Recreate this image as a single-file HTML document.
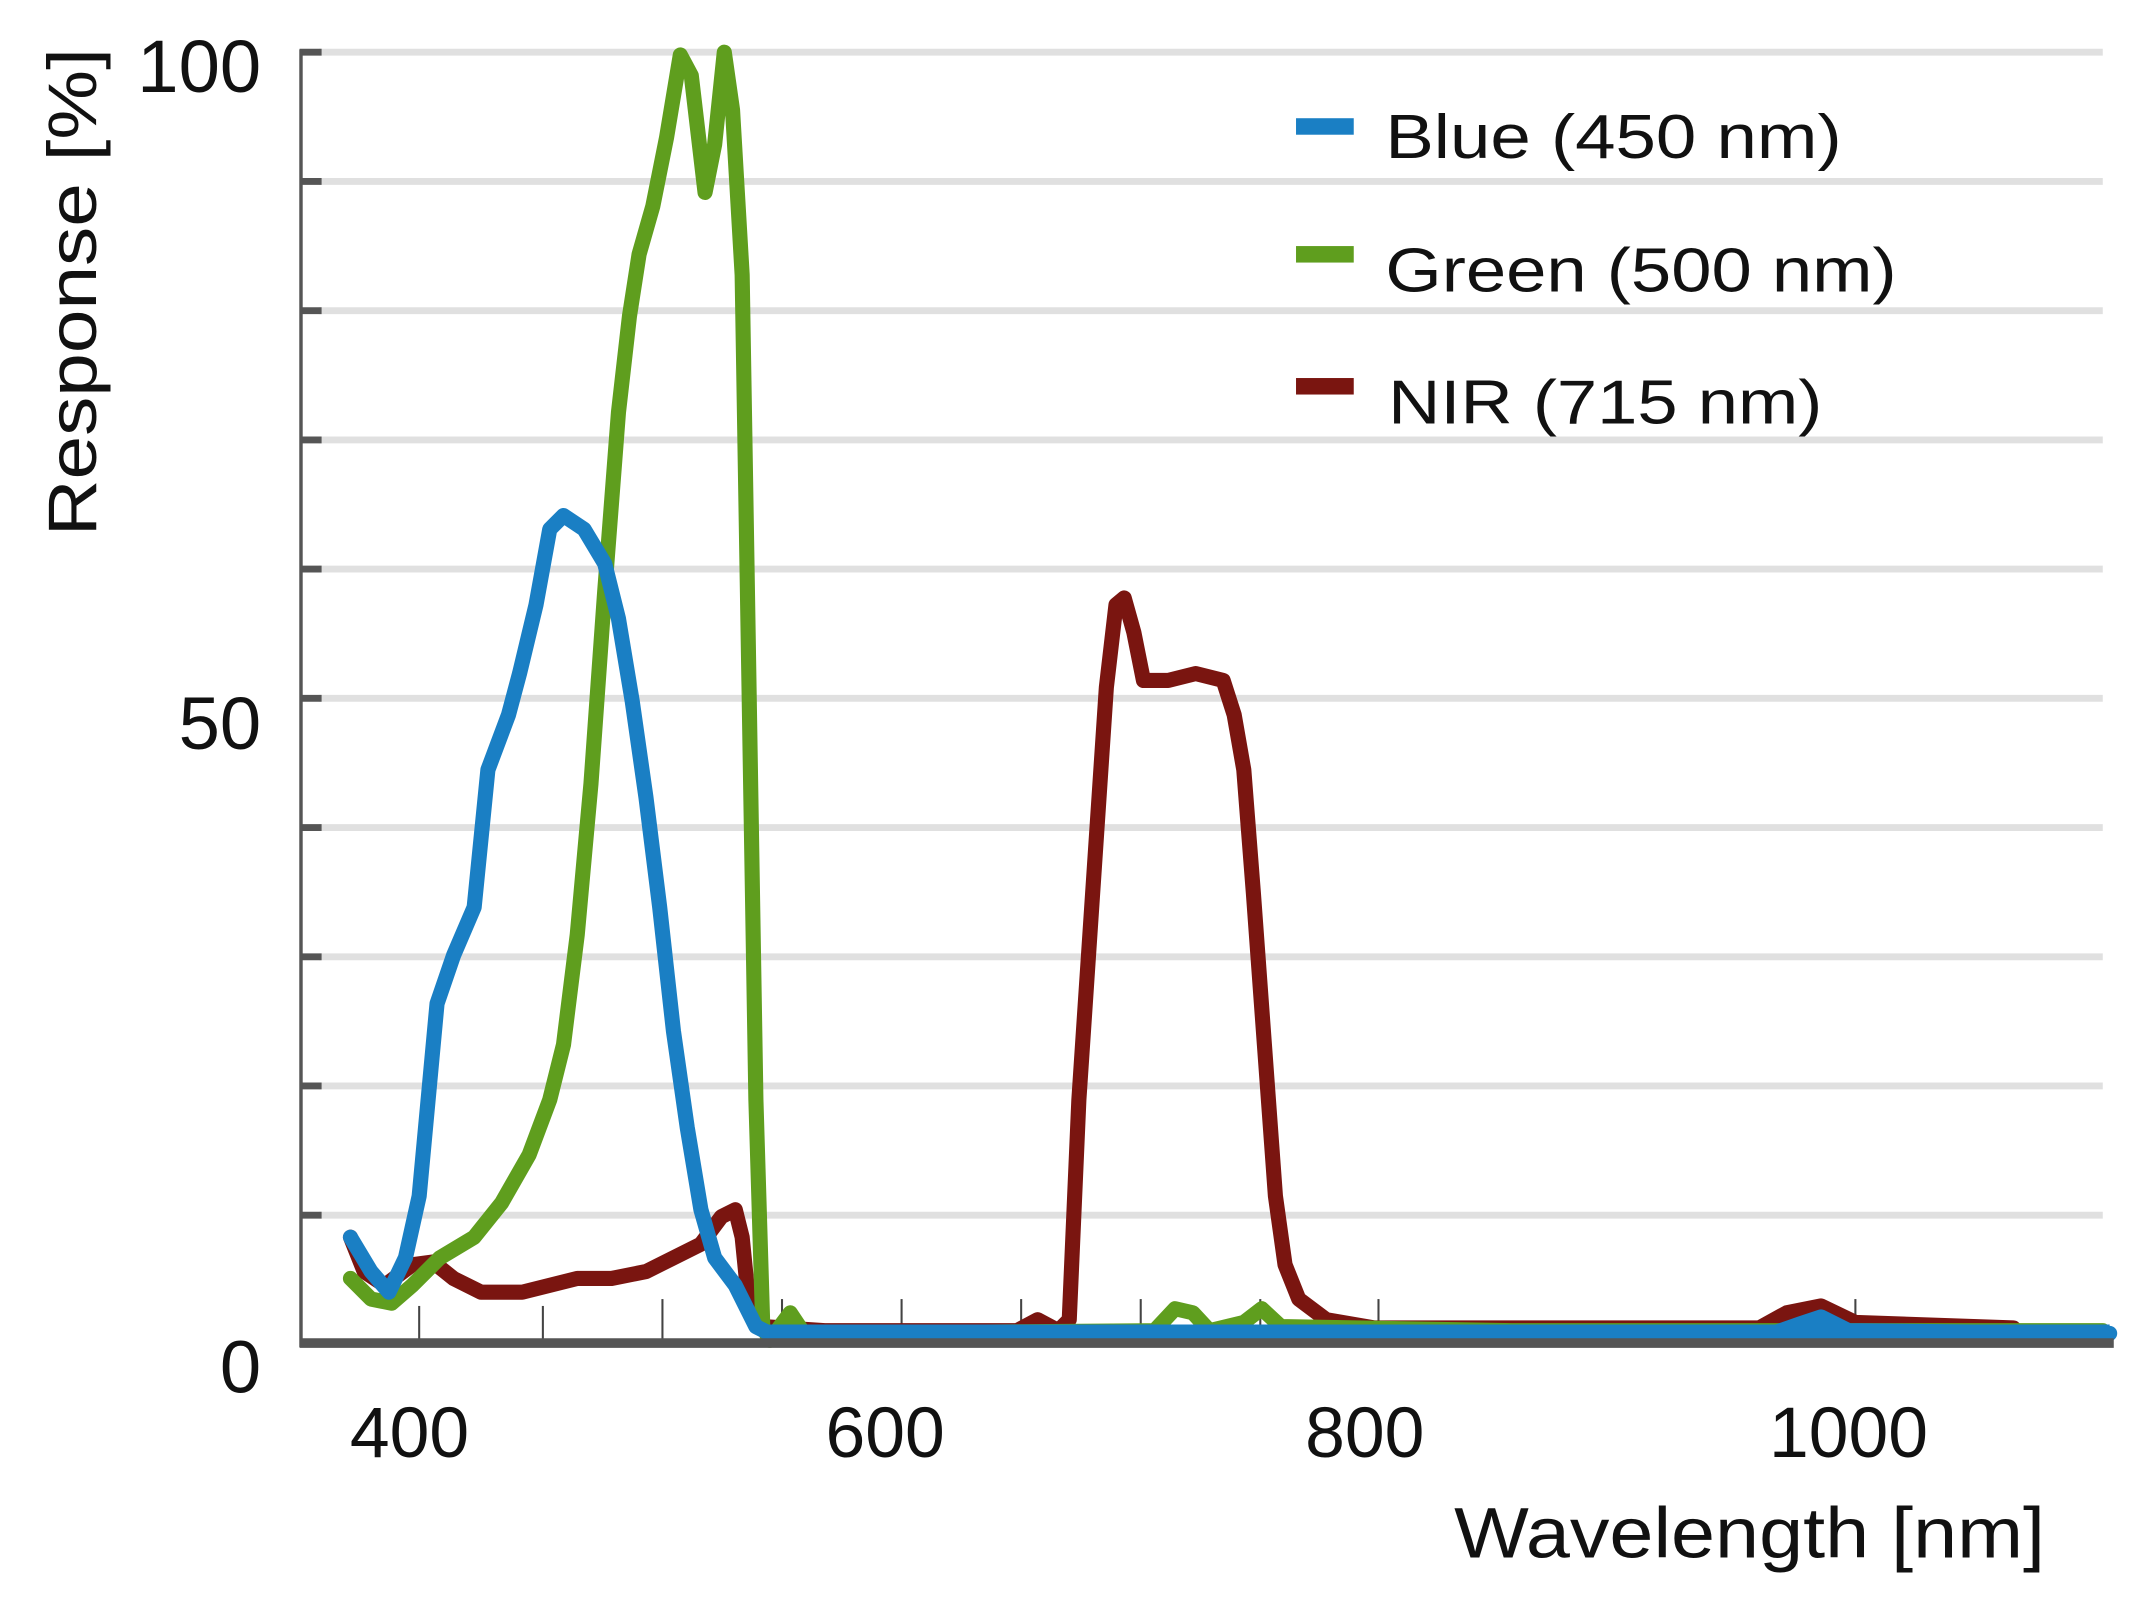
<!DOCTYPE html>
<html><head><meta charset="utf-8"><style>html,body{margin:0;padding:0;background:#fff}svg{display:block}</style></head>
<body>
<svg width="2155" height="1607" viewBox="0 0 1568 1169" preserveAspectRatio="none" xmlns="http://www.w3.org/2000/svg" font-family="Liberation Sans, Arial, sans-serif">
<rect width="1568" height="1169" fill="#fff"/>
<g stroke="#e0e0e0" stroke-width="5">
<line x1="232" y1="38" x2="1530" y2="38"/><line x1="232" y1="132" x2="1530" y2="132"/><line x1="232" y1="226" x2="1530" y2="226"/><line x1="232" y1="320" x2="1530" y2="320"/><line x1="232" y1="414" x2="1530" y2="414"/><line x1="232" y1="508" x2="1530" y2="508"/><line x1="232" y1="602" x2="1530" y2="602"/><line x1="232" y1="696" x2="1530" y2="696"/><line x1="232" y1="790" x2="1530" y2="790"/><line x1="232" y1="884" x2="1530" y2="884"/>
</g>
<g stroke="#555" stroke-width="5">
<line x1="218" y1="38" x2="234" y2="38"/><line x1="218" y1="132" x2="234" y2="132"/><line x1="218" y1="226" x2="234" y2="226"/><line x1="218" y1="320" x2="234" y2="320"/><line x1="218" y1="414" x2="234" y2="414"/><line x1="218" y1="508" x2="234" y2="508"/><line x1="218" y1="602" x2="234" y2="602"/><line x1="218" y1="696" x2="234" y2="696"/><line x1="218" y1="790" x2="234" y2="790"/><line x1="218" y1="884" x2="234" y2="884"/>
</g>
<line x1="219" y1="36" x2="219" y2="980" stroke="#555" stroke-width="2.5"/>
<g stroke="#444" stroke-width="1.5">
<line x1="305" y1="950" x2="305" y2="977"/><line x1="395" y1="950" x2="395" y2="977"/><line x1="482" y1="945" x2="482" y2="977"/><line x1="569" y1="945" x2="569" y2="977"/><line x1="656" y1="945" x2="656" y2="977"/><line x1="743" y1="945" x2="743" y2="977"/><line x1="830" y1="945" x2="830" y2="977"/><line x1="917" y1="945" x2="917" y2="977"/><line x1="1003" y1="945" x2="1003" y2="977"/><line x1="1350" y1="945" x2="1350" y2="977"/>
</g>
<g fill="none" stroke-width="11" stroke-linejoin="round" stroke-linecap="round">
<polyline stroke="#7a1510" points="255,900 265,925 280,935 300,920 315,918 330,930 350,940 380,940 400,935 420,930 445,930 470,925 490,915 510,905 525,885 535,880 540,900 545,950 555,965 600,968 740,968 755,960 770,968 778,960 785,800 795,650 805,500 812,440 818,435 825,460 832,495 850,495 870,490 890,495 898,520 905,560 912,650 920,760 928,870 935,920 945,945 965,960 1000,966 1280,966 1300,955 1325,950 1350,962 1465,966"/>
<polyline stroke="#5f9e1e" points="255,930 270,945 285,948 300,935 320,915 345,900 365,875 385,840 400,800 410,760 420,680 430,570 440,430 450,300 458,230 465,185 475,150 485,100 495,40 503,55 513,140 520,105 527,38 533,80 540,200 545,500 550,800 555,965 560,975 575,955 585,970 840,968 855,952 868,955 880,968 905,962 918,952 932,965 1100,968 1530,968"/>
<polyline stroke="#1a7fc4" points="255,900 270,925 283,940 295,915 305,870 318,730 330,695 345,660 355,560 370,520 378,490 390,440 400,385 410,375 425,385 440,410 450,450 460,510 470,580 480,660 490,750 500,820 510,880 520,915 535,935 550,965 560,970 1290,970 1310,963 1325,958 1345,968 1535,970"/>
</g>
<line x1="560" y1="970" x2="1535" y2="970" stroke="#1a7fc4" stroke-width="13"/>
<line x1="218" y1="977" x2="1538" y2="977" stroke="#555" stroke-width="7"/>
<g font-size="54" fill="#111" text-anchor="end">
<text x="190" y="67">100</text><text x="190" y="545">50</text><text x="190" y="1013">0</text>
</g>
<g font-size="52" fill="#111" text-anchor="middle">
<text x="298" y="1060">400</text><text x="644" y="1060">600</text><text x="993" y="1060">800</text><text x="1345" y="1060">1000</text>
</g>
<text x="1058" y="1133" font-size="52" fill="#111" textLength="430" lengthAdjust="spacingAndGlyphs">Wavelength [nm]</text>
<text transform="translate(70,390) rotate(-90)" font-size="50" fill="#111" textLength="355" lengthAdjust="spacingAndGlyphs">Response [%]</text>
<rect x="943" y="86" width="42" height="12" fill="#1a7fc4"/>
<rect x="943" y="179" width="42" height="12" fill="#5f9e1e"/>
<rect x="943" y="275" width="42" height="12" fill="#7a1510"/>
<g font-size="45" fill="#111">
<text x="1008" y="115" textLength="332" lengthAdjust="spacingAndGlyphs">Blue (450 nm)</text>
<text x="1008" y="212" textLength="372" lengthAdjust="spacingAndGlyphs">Green (500 nm)</text>
<text x="1010" y="308" textLength="316" lengthAdjust="spacingAndGlyphs">NIR (715 nm)</text>
</g>
</svg>
</body></html>
